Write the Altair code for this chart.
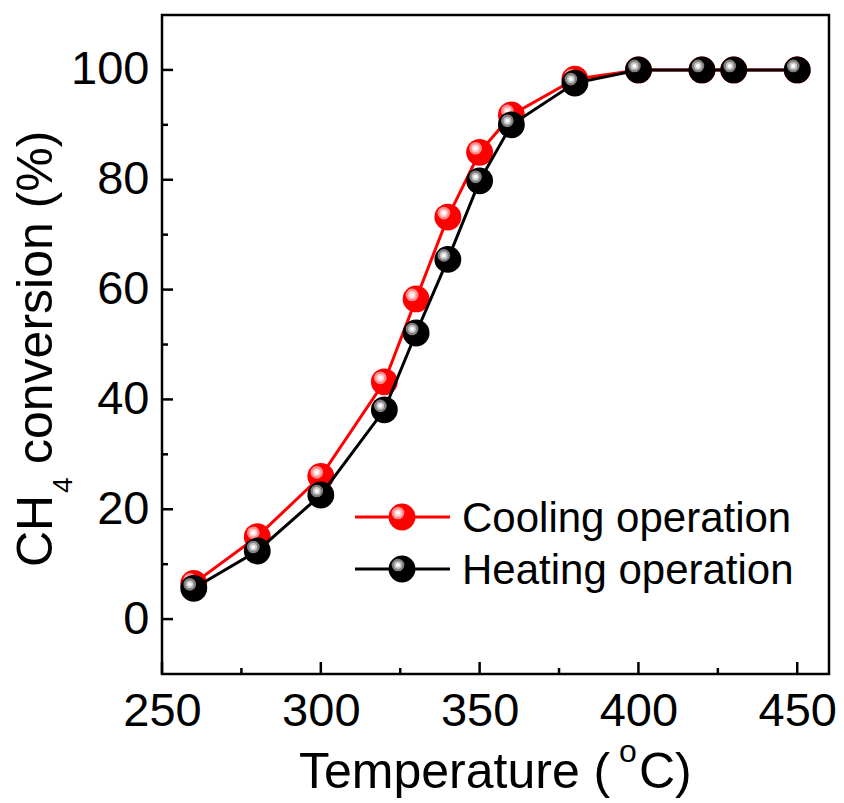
import altair as alt
import pandas as pd

# ---- data ----
temps = [260, 280, 300, 320, 330, 340, 350, 360, 380, 400, 420, 430, 450]
cooling = [6.5, 15.0, 26.0, 43.2, 58.3, 73.2, 85.0, 91.8, 98.3, 100, 100, 100, 100]
heating = [5.6, 12.4, 22.6, 38.1, 52.1, 65.5, 79.8, 90.0, 97.6, 100, 100, 100, 100]
series_names = ["Cooling operation", "Heating operation"]

x_major = [250, 300, 350, 400, 450]
x_minor = [275, 325, 375, 425]
y_major = [0, 20, 40, 60, 80, 100]
y_minor = [10, 30, 50, 70, 90]

x_title_parts = ["Temperature (", "o", "C)"]
y_title_parts = ["CH", "4", "conversion (%)"]

FONT = "Liberation Sans"
W, H = 667, 659
RED = "#ff0000"
BLACK = "#000000"

xs = alt.Scale(domain=[250, 460], nice=False, zero=False)
ys = alt.Scale(domain=[-10, 110], nice=False, zero=False)

df_c = pd.DataFrame({"T": temps, "v": cooling})
df_h = pd.DataFrame({"T": temps, "v": heating})


def series_layers(df, color, ring1, ring2, show_axes=False):
    if show_axes:
        xenc = alt.X("T:Q", scale=xs, axis=alt.Axis(values=x_major, ticks=False, domain=False, grid=False,
                                                    labelFlush=False, labelPadding=14, title=None, format="d"))
        yenc = alt.Y("v:Q", scale=ys, axis=alt.Axis(values=y_major, ticks=False, domain=False, grid=False,
                                                    labelFlush=False, labelPadding=13, title=None, format="d"))
    else:
        xenc = alt.X("T:Q", scale=xs)
        yenc = alt.Y("v:Q", scale=ys)
    base = alt.Chart(df).encode(x=xenc, y=yenc)
    line = base.mark_line(color=color, strokeWidth=3)
    dot = base.mark_circle(color=color, size=720, opacity=1)
    h1 = base.mark_circle(color=ring1, size=160, opacity=1, xOffset=-4, yOffset=-4)
    h2 = base.mark_circle(color=ring2, size=60, opacity=1, xOffset=-4, yOffset=-4)
    h3 = base.mark_circle(color="#ffffff", size=16, opacity=1, xOffset=-4, yOffset=-4)
    return [line, dot, h1, h2, h3]


# inward ticks
def ticks_x(vals, length):
    return alt.Chart(pd.DataFrame({"T": vals})).mark_rule(color="black", strokeWidth=2.5).encode(
        x=alt.X("T:Q", scale=xs), y=alt.value(H), y2=alt.value(H - length))


def ticks_y(vals, length):
    return alt.Chart(pd.DataFrame({"v": vals})).mark_rule(color="black", strokeWidth=2.5).encode(
        y=alt.Y("v:Q", scale=ys), x=alt.value(0), x2=alt.value(length))


def text_piece(txt, x, y, size, align="left", angle=0):
    return alt.Chart(pd.DataFrame({"t": [txt]})).mark_text(
        font=FONT, fontSize=size, align=align, baseline="alphabetic", angle=angle, color="black"
    ).encode(text="t:N", x=alt.value(x), y=alt.value(y))


# legend
def legend_row(name, color, ring1, ring2, yrow):
    d = pd.DataFrame({"name": [name]})
    b = alt.Chart(d)
    ln = b.mark_rule(color=color, strokeWidth=3).encode(x=alt.value(193), x2=alt.value(288), y=alt.value(yrow))
    c0 = b.mark_circle(color=color, size=720, opacity=1).encode(x=alt.value(240), y=alt.value(yrow))
    c1 = b.mark_circle(color=ring1, size=160, opacity=1).encode(x=alt.value(236), y=alt.value(yrow - 4))
    c2 = b.mark_circle(color=ring2, size=60, opacity=1).encode(x=alt.value(236), y=alt.value(yrow - 4))
    c3 = b.mark_circle(color="#ffffff", size=16, opacity=1).encode(x=alt.value(236), y=alt.value(yrow - 4))
    tx = b.mark_text(font=FONT, fontSize=42, align="left", baseline="alphabetic", color="black").encode(
        text="name:N", x=alt.value(300), y=alt.value(yrow + 15))
    return [ln, c0, c1, c2, c3, tx]


layers = []
layers += series_layers(df_c, RED, "#ff8c8c", "#ffd0d0", show_axes=True)
layers += series_layers(df_h, BLACK, "#808080", "#c8c8c8")
layers += [ticks_x(x_major, 12), ticks_x(x_minor, 6), ticks_y(y_major, 11), ticks_y(y_minor, 6)]
layers += legend_row(series_names[0], RED, "#ff8c8c", "#ffd0d0", 502)
layers += legend_row(series_names[1], BLACK, "#808080", "#c8c8c8", 554)
layers += [
    text_piece(x_title_parts[0], 137, 773, 50),
    text_piece(x_title_parts[1], 457, 747, 32),
    text_piece(x_title_parts[2], 477, 773, 50),
    text_piece(y_title_parts[0], -110, 552, 50, angle=270),
    text_piece(y_title_parts[1], -90, 478, 28, angle=270),
    text_piece(y_title_parts[2], -110, 449, 50, angle=270),
]

chart = alt.layer(*layers).properties(
    width=W, height=H,
    autosize=alt.AutoSizeParams(type="none"),
    padding={"left": 162, "top": 15, "right": 15, "bottom": 129},
    background="white",
).configure_view(stroke="black", strokeWidth=2.5).configure_axis(
    labelFont=FONT, labelFontSize=47, labelColor="black"
)

chart.save("out.html", embed_options={"renderer": "svg", "actions": False})
